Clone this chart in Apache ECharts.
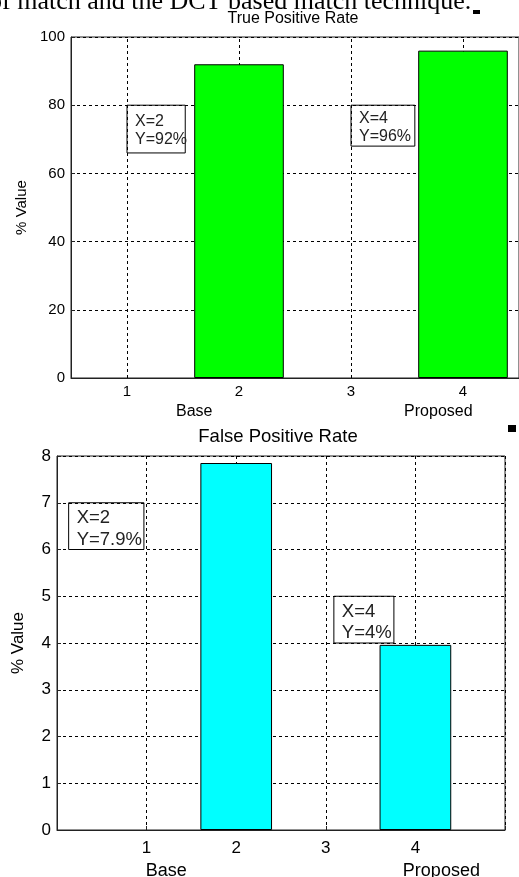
<!DOCTYPE html>
<html><head><meta charset="utf-8">
<script src="https://cdn.jsdelivr.net/npm/echarts@6/dist/echarts.min.js"></script>
<style>html,body{margin:0;padding:0;background:#fff;overflow:hidden}#c{width:519px;height:877px}</style>
</head><body><div id="c"></div>
<script>
// ---- data ----
const tprCategories = ['1', '2', '3', '4'];
const tprValues = ['-', 92, '-', 96];
const tprTitle = 'True Positive Rate';
const fprCategories = ['0', '1', '2', '3', '4', '5'];
const fprValues = ['-', '-', 7.85, '-', 3.96, '-'];
const fprTitle = 'False Positive Rate';
const yName = '% Value';
const groupLabels = ['Base', 'Proposed'];
const tprTips = [['X=2', 'Y=92%'], ['X=4', 'Y=96%']];
const fprTips = [['X=2', 'Y=7.9%'], ['X=4', 'Y=4%']];
const headerText = 'of match and the DCT based match technique.';

// ---- layout (data-space anchors for annotations) ----
const tprTipBoxes = [{x0: 1.0, x1: 1.52, y0: 80, y1: 66}, {x0: 3.0, x1: 3.57, y0: 80, y1: 68}];
const fprTipBoxes = [{x0: 0.13, x1: 0.97, y0: 7, y1: 6}, {x0: 3.09, x1: 3.76, y0: 5, y1: 4}];
const tprGroupX = [1.6, 3.78];
const fprGroupX = [1.22, 4.29];

const FONT = '"Liberation Sans", Arial, sans-serif';
const chart = echarts.init(document.getElementById('c'), null, {renderer: 'canvas'});
const dash = {type: [3, 3], color: '#000', width: 1};

function xAxisCfg(idx, cats, boundaryGap, fs, margin) {
  return {
    gridIndex: idx, type: 'category', data: cats, boundaryGap: boundaryGap,
    axisLine: {lineStyle: {color: '#222', width: 1}},
    axisTick: {alignWithLabel: true, inside: true, length: 4, interval: 0, lineStyle: {color: '#222'}},
    axisLabel: {color: '#000', fontSize: fs, fontFamily: FONT, margin: margin, interval: 0,
      formatter: v => (boundaryGap ? v : (v === cats[0] || v === cats[cats.length - 1] ? '' : v))},
    splitLine: {show: !boundaryGap, interval: 0, lineStyle: dash}
  };
}
function yAxisCfg(idx, max, interval, fs, gap) {
  return {
    gridIndex: idx, type: 'value', min: 0, max: max, interval: interval,
    name: yName, nameLocation: 'middle', nameGap: gap,
    nameTextStyle: {color: '#000', fontSize: fs, fontFamily: FONT},
    axisLine: {show: true, lineStyle: {color: '#222', width: 1}},
    axisTick: {show: true, inside: true, length: 4, lineStyle: {color: '#222'}},
    axisLabel: {color: '#000', fontSize: fs, fontFamily: FONT, margin: 6},
    splitLine: {show: true, lineStyle: dash}
  };
}

chart.setOption({
  animation: false,
  grid: [
    {left: 71, top: 37, right: -1, height: 341, show: true, borderColor: '#222', borderWidth: 1, backgroundColor: '#fff'},
    {left: 57, top: 456, right: 14, height: 374, show: true, borderColor: '#222', borderWidth: 1, backgroundColor: '#fff'}
  ],
  xAxis: [xAxisCfg(0, tprCategories, true, 15, 6), xAxisCfg(1, fprCategories, false, 17, 10)],
  yAxis: [yAxisCfg(0, 100, 20, 15, 40), yAxisCfg(1, 8, 1, 17, 30)],
  series: [
    {type: 'line', xAxisIndex: 0, yAxisIndex: 0, data: [], z: 1, silent: true,
      markLine: {z: 1, silent: true, symbol: ['none', 'none'], label: {show: false}, lineStyle: dash,
        data: tprCategories.map(c => ({xAxis: c}))}},
    {type: 'bar', xAxisIndex: 0, yAxisIndex: 0, data: tprValues, barWidth: '80%', z: 3,
      itemStyle: {color: '#00ff00', borderColor: '#000', borderWidth: 1}},
    {type: 'bar', xAxisIndex: 1, yAxisIndex: 1, data: fprValues, barWidth: '80%', z: 3,
      itemStyle: {color: '#00ffff', borderColor: '#000', borderWidth: 1}}
  ]
});

function xPix(axisIdx, cats, v) {
  const a = chart.convertToPixel({xAxisIndex: axisIdx}, cats[0]);
  const b = chart.convertToPixel({xAxisIndex: axisIdx}, cats[1]);
  return a + (v - Number(cats[0])) * (b - a);
}
function yPix(axisIdx, v) { return chart.convertToPixel({yAxisIndex: axisIdx}, v); }

const g = [];
function tips(axisIdx, cats, boxes, texts, fs, lh, shift) {
  boxes.forEach((bx, i) => {
    const x0 = xPix(axisIdx, cats, bx.x0), x1 = xPix(axisIdx, cats, bx.x1);
    const y0 = yPix(axisIdx, bx.y0), y1 = yPix(axisIdx, bx.y1);
    g.push({type: 'rect', z: 10, shape: {x: x0, y: y0, width: x1 - x0, height: y1 - y0},
      style: {fill: 'rgba(255,255,255,0)', stroke: '#000', lineWidth: 1}});
    const mid = (y0 + y1) / 2 + shift;
    texts[i].forEach((t, j) => {
      g.push({type: 'text', z: 11, x: x0 + 8, y: mid + (j - 0.5) * lh,
        style: {text: t, font: fs + 'px ' + FONT, fill: '#222', textVerticalAlign: 'middle'}});
    });
  });
}
tips(0, tprCategories, tprTipBoxes, tprTips, 16, 18, 1.5);
tips(1, fprCategories, fprTipBoxes, fprTips, 18.5, 21.5, 3);

function groups(axisIdx, cats, xs, off, fs) {
  const y = yPix(axisIdx, 0) + off;
  xs.forEach((v, i) => g.push({type: 'text', x: xPix(axisIdx, cats, v), y: y,
    style: {text: groupLabels[i], font: fs + 'px ' + FONT, fill: '#000', textAlign: 'center', textVerticalAlign: 'middle'}}));
}
groups(0, tprCategories, tprGroupX, 34, 16);
groups(1, fprCategories, fprGroupX, 41, 18);

g.push({type: 'text', x: 293, y: 19, style: {text: tprTitle, font: '16px ' + FONT, fill: '#000', textAlign: 'center', textVerticalAlign: 'middle'}});
g.push({type: 'text', x: 278, y: 437, style: {text: fprTitle, font: '18.5px ' + FONT, fill: '#000', textAlign: 'center', textVerticalAlign: 'middle'}});
g.push({type: 'text', x: -11, y: 2, style: {text: headerText, font: '26px "Liberation Serif", "Times New Roman", serif', fill: '#000', textVerticalAlign: 'middle'}});
g.push({type: 'rect', shape: {x: 473, y: 10, width: 7, height: 4}, style: {fill: '#000'}});
g.push({type: 'rect', shape: {x: 508, y: 425, width: 8, height: 7}, style: {fill: '#000'}});

chart.setOption({graphic: g});
</script>
</body></html>
